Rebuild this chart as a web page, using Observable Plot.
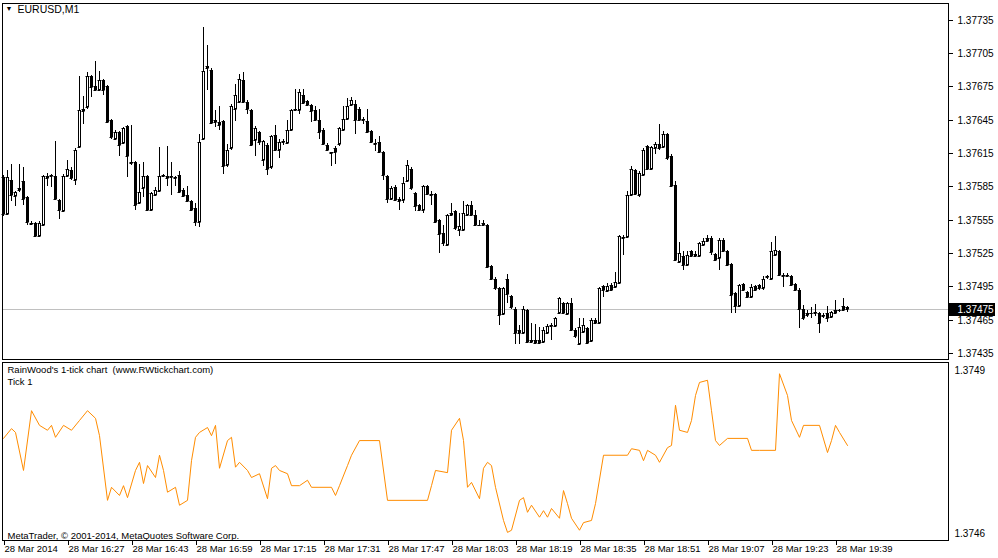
<!DOCTYPE html>
<html><head><meta charset="utf-8">
<script src="https://cdn.jsdelivr.net/npm/d3@7"></script>
<script src="https://cdn.jsdelivr.net/npm/@observablehq/plot@0.6"></script>
<style>
html,body{margin:0;padding:0;background:#fff;}
#wrap{position:relative;width:998px;height:558px;overflow:hidden;}
#main,#sub{position:absolute;left:0;}
#main{top:0;} #sub{top:361px;}
</style></head><body>
<div id="wrap"><div id="main"></div><div id="sub"></div></div>
<script>
// EURUSD M1 candles, prices in points (1e-5), bar 0 = 28 Mar 2014 16:11
const PT = 1e5;
const O = [137593,137560,137591,137576,137583,137590,137575,137552,137552,137540,137550,137594,137594,137594,137573,137563,137594,137600,137591,137620,
137655,137656,137684,137675,137672,137681,137675,137645,137628,137634,137624,137639,137607,137607,137570,137583,137594,137564,137577,137581,
137594,137592,137594,137593,137595,137582,137577,137572,137565,137553,137628,137693,137690,137643,137643,137644,137604,137619,137655,137661,
137681,137661,137654,137627,137634,137609,137622,137602,137631,137618,137625,137624,137636,137654,137654,137667,137662,137658,137654,137645,
137636,137622,137616,137616,137623,137636,137646,137658,137659,137655,137646,137644,137635,137624,137625,137616,137594,137574,137584,137572,
137573,137590,137601,137579,137568,137564,137585,137578,137578,137555,137543,137532,137559,137563,137546,137546,137559,137568,137559,137550,
137552,137550,137513,137502,137493,137470,137502,137486,137475,137453,137453,137474,137445,137447,137447,137445,137453,137459,137459,137471,
137480,137470,137480,137456,137443,137454,137457,137446,137465,137462,137492,137491,137496,137494,137498,137538,137539,137577,137600,137577,
137595,137621,137601,137619,137623,137620,137632,137612,137586,137517,137522,137514,137527,137522,137522,137532,137536,137538,137524,137520,
137537,137527,137515,137489,137477,137497,137490,137485,137495,137496,137493,137503,137502,137523,137527,137505,137505,137504,137497,137492,
137475,137469,137471,137471,137471,137468,137471,137467,137471,137474,137474,137476];
const H = [137595,137600,137605,137581,137605,137602,137576,137554,137553,137554,137595,137597,137596,137626,137574,137596,137609,137602,137619,137684,
137666,137688,137685,137698,137689,137682,137676,137646,137636,137635,137638,137640,137640,137608,137605,137607,137595,137580,137584,137620,
137596,137621,137607,137594,137599,137583,137585,137573,137570,137632,137728,137712,137691,137654,137657,137645,137623,137659,137677,137686,
137688,137663,137655,137639,137635,137627,137624,137631,137640,137628,137628,137645,137655,137673,137673,137673,137663,137659,137657,137655,
137637,137624,137616,137621,137638,137657,137664,137665,137663,137656,137647,137655,137636,137628,137630,137617,137595,137585,137586,137575,
137593,137609,137602,137580,137569,137586,137586,137581,137579,137556,137550,137560,137570,137564,137561,137572,137569,137572,137564,137555,
137555,137551,137514,137503,137494,137494,137506,137487,137476,137460,137477,137475,137462,137461,137458,137458,137461,137462,137467,137485,
137481,137481,137484,137457,137466,137466,137458,137466,137466,137494,137496,137498,137498,137508,137541,137541,137581,137603,137601,137599,
137619,137622,137621,137625,137641,137635,137633,137614,137590,137535,137527,137527,137528,137527,137535,137538,137541,137540,137525,137538,
137538,137528,137516,137490,137497,137498,137491,137497,137496,137497,137504,137505,137535,137540,137528,137507,137507,137505,137498,137493,
137478,137474,137476,137479,137472,137471,137477,137473,137483,137475,137484,137477];
const L = [137558,137559,137572,137567,137580,137568,137550,137550,137539,137539,137549,137585,137584,137573,137556,137562,137593,137591,137586,137619,
137641,137655,137665,137671,137671,137667,137642,137628,137627,137612,137623,137593,137604,137564,137569,137575,137563,137563,137576,137580,
137593,137585,137577,137585,137579,137575,137571,137563,137549,137548,137627,137672,137641,137638,137636,137596,137602,137618,137644,137660,
137660,137650,137621,137612,137622,137603,137595,137601,137617,137610,137622,137623,137635,137653,137650,137659,137657,137643,137644,137628,
137622,137617,137603,137605,137621,137635,137645,137657,137632,137644,137641,137633,137624,137617,137615,137591,137570,137573,137572,137564,
137570,137589,137582,137563,137563,137561,137577,137568,137552,137525,137531,137531,137558,137546,137540,137545,137558,137558,137549,137549,
137549,137511,137501,137492,137460,137469,137480,137475,137443,137443,137452,137444,137444,137443,137443,137444,137452,137447,137458,137470,
137470,137469,137455,137448,137442,137453,137443,137445,137461,137461,137485,137490,137491,137493,137497,137523,137538,137576,137577,137575,
137594,137600,137600,137614,137618,137619,137609,137584,137518,137516,137510,137513,137521,137521,137521,137531,137535,137523,137518,137510,
137526,137513,137471,137471,137476,137491,137484,137484,137491,137492,137492,137502,137501,137522,137504,137494,137503,137495,137491,137457,
137465,137467,137466,137468,137453,137466,137463,137466,137470,137472,137473,137472];
const C = [137560,137593,137577,137580,137582,137574,137553,137551,137540,137552,137594,137592,137595,137574,137564,137594,137601,137592,137618,137654,
137653,137684,137674,137672,137681,137672,137643,137629,137634,137622,137637,137612,137606,137568,137580,137594,137564,137579,137582,137594,
137595,137594,137593,137592,137580,137576,137572,137564,137553,137625,137689,137691,137642,137645,137640,137603,137618,137657,137667,137682,
137661,137655,137622,137637,137625,137626,137601,137630,137618,137625,137626,137636,137654,137655,137670,137660,137658,137653,137645,137634,
137623,137618,137615,137619,137637,137646,137657,137663,137645,137645,137645,137634,137625,137623,137616,137595,137574,137583,137573,137574,
137588,137604,137583,137567,137564,137585,137578,137577,137553,137542,137534,137559,137561,137547,137549,137561,137568,137559,137550,137550,
137550,137512,137502,137493,137469,137493,137488,137476,137453,137456,137475,137445,137447,137444,137444,137456,137459,137460,137466,137484,
137471,137480,137456,137450,137458,137460,137444,137465,137462,137493,137495,137495,137492,137499,137540,137539,137577,137601,137578,137597,
137618,137601,137620,137623,137619,137632,137610,137585,137519,137525,137514,137523,137522,137524,137534,137536,137538,137526,137519,137537,
137527,137514,137487,137477,137496,137492,137485,137494,137492,137493,137502,137504,137527,137528,137505,137504,137504,137496,137492,137475,
137466,137471,137471,137472,137462,137469,137466,137472,137474,137474,137477,137475];

const timeLabelBars = [0,16,32,48,64,80,96,112,128,144,160,176,192,208];
const timeLabels = ["28 Mar 2014","28 Mar 16:27","28 Mar 16:43","28 Mar 16:59","28 Mar 17:15","28 Mar 17:31","28 Mar 17:47",
  "28 Mar 18:03","28 Mar 18:19","28 Mar 18:35","28 Mar 18:51","28 Mar 19:07","28 Mar 19:23","28 Mar 19:39"];
const priceTicks = [1.37435,1.37465,1.37495,1.37525,1.37555,1.37585,1.37615,1.37645,1.37675,1.37705,1.37735];
const lastPrice = 1.37475;
const symbolLabel = "EURUSD,M1";

// RainWood 1-tick line (bar index, value in points)
const tickBars = [0,2,3,5,7,9,11,12,13,15,17,19,21,23,24,26,27,29,30,31,33,34,35,36,38,39,40,41,43,44,46,47,48,49,51,52,53,54,56,57,58,59,61,62,64,66,67,68,69,71,72,74,76,77,82,83,84,86,87,89,94,96,106,107,108,111,112,114,115,116,117,119,120,121,122,123,125,126,127,129,130,131,132,134,135,136,137,139,140,141,142,144,145,147,148,150,156,157,159,160,161,163,164,166,167,168,169,171,172,173,174,176,177,178,179,181,186,187,189,193,194,196,197,199,200,204,206,207,208,209,211];
const tickPts = [137477.5,137479.3,137478.6,137471.6,137482.6,137479.9,137479,137479.9,137477.7,137479.9,137479,137480.8,137482.6,137481.2,137478,137466.1,137468.5,137467,137468.8,137466.6,
137471.6,137473.1,137469.2,137472.5,137470.3,137474.4,137471.6,137467.6,137468.5,137465.2,137466.1,137473.4,137477.7,137478.6,137479.5,137478,137479.9,137472,137477.1,137477.7,
137472.2,137473.1,137471.6,137470.3,137471,137466.4,137472,137472.5,137471.6,137471,137468.8,137468.8,137469.8,137468.5,137468.5,137467,137468.8,137472.5,137474.4,137477.1,
137477.1,137466.1,137466.1,137468.8,137471.6,137471.2,137479,137481.2,137477.1,137468.5,137469.4,137466.4,137472,137473.1,137472.5,137468.5,137462.4,137460.2,137460.6,137466.1,
137466.6,137463.9,137465.2,137463,137464.2,137463,137464.6,137462.8,137467.9,137465.5,137462.8,137460.6,137462,137462.4,137465.5,137474.4,137474.4,137475.6,137475.3,137473.4,
137475.3,137474.4,137473.1,137475.8,137476.2,137483.6,137479,137478.6,137480.8,137485.4,137487.8,137488.2,137482.6,137477.1,137476.2,137477.5,137477.5,137475.3,137475.3,137475.3,
137489.4,137485.4,137480.8,137477.7,137479.9,137479.9,137474.9,137477.1,137479.9,137478.6,137476.2];
const subTicks = [1.3746, 1.3749];
const subTitle = "RainWood's 1-tick chart\u00a0\u00a0(www.RWtickchart.com)";
const subName = "Tick 1";
const copyright = "MetaTrader, \u00a9 2001-2014, MetaQuotes Software Corp.";

const bars = O.map((o, i) => ({i, o: o / PT, h: H[i] / PT, l: L[i] / PT, c: C[i] / PT}));
const upInner = bars.filter(d => d.c - d.o >= 0.00003);
const tickLine = tickBars.map((b, k) => ({i: b, v: tickPts[k] / PT}));
const xDomain = d3.range(237);
const font = "'Liberation Sans', Arial, sans-serif";
const fmt5 = d3.format(".5f");

const main = Plot.plot({
  width: 998, height: 361,
  marginLeft: 2, marginRight: 50, marginTop: 3, marginBottom: 2,
  style: {fontFamily: font, fontSize: "10px", background: "#fff", color: "#000", overflow: "visible"},
  x: {type: "band", domain: xDomain, range: [1, 949], padding: 0, axis: null},
  y: {domain: [1.3742955, 1.3774995], round: true, axis: null},
  marks: [
    Plot.ruleY([lastPrice], {stroke: "#c0c0c0"}),
    Plot.ruleX(bars, {x: "i", y1: "l", y2: "h", stroke: "#000"}),
    Plot.barY(bars, {x: "i", y1: "o", y2: "c", fill: "#000", insetLeft: 1, insetRight: 0}),
    Plot.barY(upInner, {x: "i", y1: "o", y2: "c", fill: "#fff", insetLeft: 2, insetRight: 1, insetTop: 1, insetBottom: 1}),
    Plot.tickY(bars, {x: "i", y: "o", stroke: "#000", insetLeft: 0.5, insetRight: 0.5}),
    Plot.tickY(bars, {x: "i", y: "c", stroke: "#000", insetLeft: 0.5, insetRight: 0.5}),
    Plot.frame({stroke: "#000"}),
    Plot.axisY({anchor: "right", ticks: priceTicks, tickFormat: fmt5, tickSize: 4, tickPadding: 5, fontSize: 10, label: null}),
    Plot.ruleY([lastPrice], {stroke: "#000", strokeWidth: 13, insetLeft: 946, insetRight: -47}),
    Plot.text([lastPrice], {y: d => d, text: fmt5, frameAnchor: "right", dx: 9, textAnchor: "start", fill: "#fff", fontSize: 10}),
    Plot.text(["\u25BC"], {frameAnchor: "top-left", dx: 3, dy: 3, lineAnchor: "top", textAnchor: "start", fontSize: 7, fill: "#000"}),
    Plot.text([symbolLabel], {frameAnchor: "top-left", dx: 15, dy: 2, lineAnchor: "top", textAnchor: "start", fontSize: 10.5, fill: "#000"})
  ]
});
document.getElementById("main").appendChild(main);

const sub = Plot.plot({
  width: 998, height: 197,
  marginLeft: 2, marginRight: 50, marginTop: 1, marginBottom: 18,
  style: {fontFamily: font, fontSize: "10px", background: "#fff", color: "#000", overflow: "visible"},
  x: {type: "band", domain: xDomain, range: [1, 949], padding: 0},
  y: {domain: [1.3745871, 1.3749147]},
  marks: [
    Plot.line(tickLine, {x: "i", y: "v", stroke: "#ff8c00", strokeWidth: 1}),
    Plot.frame({stroke: "#000"}),
    Plot.axisY({anchor: "right", ticks: subTicks, tickFormat: d3.format(".4f"), tickSize: 0, tickPadding: 6, fontSize: 10, label: null}),
    Plot.axisX({ticks: timeLabelBars, tickFormat: i => timeLabels[timeLabelBars.indexOf(i)], tickSize: 5, tickPadding: 0, textAnchor: "start", dx: 1, fontSize: 9.5, label: null}),
    Plot.text([subTitle], {frameAnchor: "top-left", dx: 5, dy: 4, lineAnchor: "top", textAnchor: "start", fontSize: 9.5, fill: "#000"}),
    Plot.text([subName], {frameAnchor: "top-left", dx: 5, dy: 16, lineAnchor: "top", textAnchor: "start", fontSize: 9.5, fill: "#000"}),
    Plot.text([copyright], {frameAnchor: "bottom-left", dx: 5, dy: -2, lineAnchor: "bottom", textAnchor: "start", fontSize: 9.5, fill: "#000"})
  ]
});
document.getElementById("sub").appendChild(sub);
</script>
</body></html>
